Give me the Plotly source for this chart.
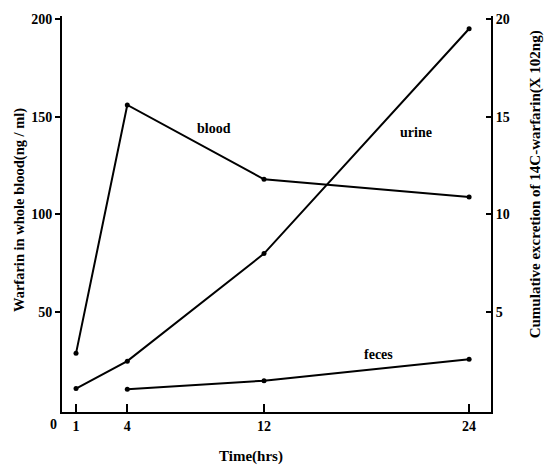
import plotly.graph_objects as go

time_blood = [1, 4, 12, 24]
blood = [29, 156, 118, 109]          # ng/ml, left axis
time_urine = [1, 4, 12, 24]
urine = [1.1, 2.5, 8.0, 19.5]        # x 10^2 ng, right axis
time_feces = [4, 12, 24]
feces = [1.06, 1.5, 2.6]             # x 10^2 ng, right axis

x_ticks = [1, 4, 12, 24]
left_ticks = [50, 100, 150, 200]
right_ticks = [5, 10, 15, 20]

FONT = "Liberation Serif"
line_style = dict(color="black", width=2)
marker_style = dict(color="black", size=5)

fig = go.Figure()
fig.add_trace(go.Scatter(x=time_blood, y=blood, mode="lines+markers", line=line_style,
                         marker=marker_style, yaxis="y", showlegend=False))
fig.add_trace(go.Scatter(x=time_urine, y=urine, mode="lines+markers", line=line_style,
                         marker=marker_style, yaxis="y2", showlegend=False))
fig.add_trace(go.Scatter(x=time_feces, y=feces, mode="lines+markers", line=line_style,
                         marker=marker_style, yaxis="y2", showlegend=False))

tickfont = dict(family=FONT, size=14, color="black", weight="bold")

fig.update_layout(
    width=545, height=465,
    margin=dict(l=62, r=54, t=12, b=53),
    paper_bgcolor="white", plot_bgcolor="white",
    xaxis=dict(range=[0.18, 25.28], tickvals=x_ticks, ticktext=[str(v) for v in x_ticks],
               showline=True, linecolor="black", linewidth=2, ticks="inside", ticklen=8,
               tickwidth=2, tickcolor="black", showgrid=False, zeroline=False,
               tickfont=tickfont),
    yaxis=dict(range=[-1, 201.5], tickvals=left_ticks, showline=True, linecolor="black",
               linewidth=2, ticks="outside", ticklen=5, tickwidth=2, tickcolor="black",
               showgrid=False, zeroline=False, tickfont=tickfont),
    yaxis2=dict(range=[-0.1, 20.15], tickvals=right_ticks, overlaying="y", side="right",
                anchor="x", showline=True, linecolor="black", linewidth=2, ticks="inside",
                ticklen=5, tickwidth=2, tickcolor="black", showgrid=False, zeroline=False,
                tickfont=tickfont),
)

W, H = 429, 400   # plot area size in px (left 62, top 12)


def px(xp):
    return (xp - 62) / W


def py(yp):
    return (412 - yp) / H


def anno(text, x, y, size, xref="paper", yref="paper", angle=0):
    return dict(text=text, x=x, y=y, xref=xref, yref=yref, showarrow=False,
                xanchor="center", yanchor="middle", textangle=angle,
                font=dict(family=FONT, size=size, color="black"))


annos = [
    anno("<b>blood</b>", 9.1, 144, 14, "x", "y"),
    anno("<b>urine</b>", 20.9, 142, 14, "x", "y"),
    anno("<b>feces</b>", 18.7, 28.4, 14, "x", "y"),
    anno("<b>0</b>", px(53), py(425), 14),
    anno("<b>Time(hrs)</b>", px(251), py(457), 15),
    anno("<b>Warfarin in whole blood(ng / ml)</b>", px(19), py(208), 14.5, angle=-90),
    anno("<b>Cumulative excretion of 14C-warfarin(X 102ng)</b>", px(535), py(182), 15, angle=-90),
]
fig.update_layout(annotations=annos)

fig.write_html("out.html")
